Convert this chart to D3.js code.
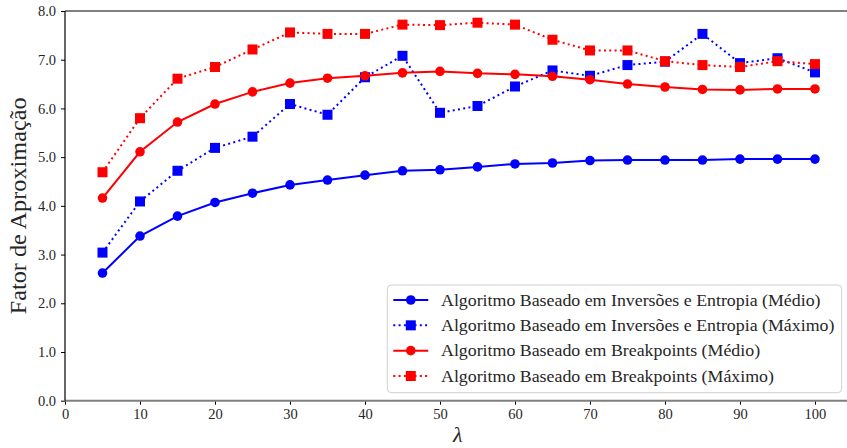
<!DOCTYPE html>
<html>
<head>
<meta charset="utf-8">
<script src="https://cdn.jsdelivr.net/npm/d3@7"></script>
<style>
  html, body { margin: 0; padding: 0; background: #fff; }
  svg { display: block; }
</style>
</head>
<body>
<svg id="chart" width="847" height="448"></svg>
<script>
// λ values on the x axis
const lambdaVals = [5, 10, 15, 20, 25, 30, 35, 40, 45, 50, 55, 60, 65, 70, 75, 80, 85, 90, 95, 100];

// Approximation factor per algorithm
const invMedio  = [2.62, 3.38, 3.79, 4.07, 4.26, 4.43, 4.53, 4.63, 4.72, 4.74, 4.80, 4.86, 4.88, 4.93, 4.94, 4.94, 4.94, 4.96, 4.96, 4.96];
const invMaximo = [3.04, 4.09, 4.72, 5.19, 5.42, 6.09, 5.87, 6.64, 7.08, 5.91, 6.05, 6.45, 6.78, 6.67, 6.89, 6.96, 7.53, 6.93, 7.03, 6.74];
const bpMedio   = [4.16, 5.11, 5.72, 6.09, 6.34, 6.52, 6.62, 6.67, 6.73, 6.76, 6.72, 6.70, 6.66, 6.59, 6.50, 6.44, 6.39, 6.38, 6.40, 6.40];
const bpMaximo  = [4.69, 5.80, 6.61, 6.85, 7.21, 7.56, 7.53, 7.53, 7.72, 7.71, 7.76, 7.72, 7.41, 7.19, 7.19, 6.97, 6.89, 6.85, 6.97, 6.91];

const seriesNames = [
  "Algoritmo Baseado em Inversões e Entropia (Médio)",
  "Algoritmo Baseado em Inversões e Entropia (Máximo)",
  "Algoritmo Baseado em Breakpoints (Médio)",
  "Algoritmo Baseado em Breakpoints (Máximo)"
];

const xTicks = [0, 10, 20, 30, 40, 50, 60, 70, 80, 90, 100];
const yTicks = [0, 1, 2, 3, 4, 5, 6, 7, 8];

const series = [
  { name: seriesNames[0], values: invMedio,  color: "#0000ff", dotted: false, marker: "circle" },
  { name: seriesNames[1], values: invMaximo, color: "#0000ff", dotted: true,  marker: "square" },
  { name: seriesNames[2], values: bpMedio,   color: "#ff0000", dotted: false, marker: "circle" },
  { name: seriesNames[3], values: bpMaximo,  color: "#ff0000", dotted: true,  marker: "square" }
];

const SERIF = "'Liberation Serif', 'DejaVu Serif', serif";
const INK = "#262626";

const svg = d3.select("#chart");
const plotL = 65, plotR = 850.6, plotT = 11, plotB = 400.7;

const x = d3.scaleLinear().domain([0, 104.75]).range([plotL, plotR]);
const y = d3.scaleLinear().domain([0, 8]).range([plotB, plotT]);

const DASH = "2,3.3";
const R = 4.8, SQ = 10;

function drawMarker(g, shape, cx, cy, color) {
  if (shape === "circle") {
    g.append("circle").attr("cx", cx).attr("cy", cy).attr("r", R).attr("fill", color);
  } else {
    g.append("rect").attr("x", cx - SQ / 2).attr("y", cy - SQ / 2)
      .attr("width", SQ).attr("height", SQ).attr("fill", color);
  }
}

// Series lines and markers
const plot = svg.append("g");
const line = d3.line().x(d => x(d[0])).y(d => y(d[1]));
series.forEach(s => {
  const pts = lambdaVals.map((l, i) => [l, s.values[i]]);
  const g = plot.append("g");
  g.append("path").datum(pts).attr("d", line)
    .attr("fill", "none").attr("stroke", s.color).attr("stroke-width", 2)
    .attr("stroke-dasharray", s.dotted ? DASH : null);
  pts.forEach(p => drawMarker(g, s.marker, x(p[0]), y(p[1]), s.color));
});

// Axes
const xAxis = svg.append("g").attr("transform", `translate(0,${plotB})`)
  .call(d3.axisBottom(x).tickValues(xTicks).tickSize(4).tickPadding(4).tickFormat(d3.format("d")));
const yAxis = svg.append("g").attr("transform", `translate(${plotL},0)`)
  .call(d3.axisLeft(y).tickValues(yTicks).tickSize(4).tickPadding(5).tickFormat(d3.format(".1f")));
[xAxis, yAxis].forEach(a => {
  a.attr("font-family", null).attr("font-size", null);
  a.select(".domain").remove();
  a.selectAll(".tick line").attr("stroke", "#000").attr("stroke-width", 1);
  a.selectAll(".tick text")
    .style("font-family", SERIF).style("font-size", "14.5px").style("fill", INK);
});

// Spines
svg.append("line").attr("x1", plotL).attr("x2", 847).attr("y1", plotT).attr("y2", plotT)
  .attr("stroke", "#808080").attr("stroke-width", 2);
svg.append("line").attr("x1", plotL).attr("x2", 847).attr("y1", plotB).attr("y2", plotB)
  .attr("stroke", "#808080").attr("stroke-width", 2);
svg.append("line").attr("x1", plotL).attr("x2", plotL).attr("y1", plotT).attr("y2", plotB)
  .attr("stroke", "#000").attr("stroke-width", 1.2);

// Axis titles
svg.append("text")
  .attr("transform", `translate(26,${(plotT + plotB) / 2}) rotate(-90)`)
  .attr("text-anchor", "middle")
  .style("font-family", SERIF).style("font-size", "24px").style("fill", INK)
  .attr("textLength", 217).attr("lengthAdjust", "spacingAndGlyphs")
  .text("Fator de Aproximação");
svg.append("text")
  .attr("x", (plotL + plotR) / 2).attr("y", 442)
  .attr("text-anchor", "middle")
  .style("font-family", SERIF).style("font-size", "22px").style("font-style", "italic").style("fill", INK)
  .text("λ");

// Legend
const lg = svg.append("g");
lg.append("rect").attr("x", 387.3).attr("y", 285).attr("width", 454.4).attr("height", 107.7)
  .attr("rx", 4).attr("fill", "#fff").attr("fill-opacity", 0.8)
  .attr("stroke", "#d0d0d0").attr("stroke-width", 1);
const rowY = d3.scaleLinear().domain([0, 3]).range([300, 376]);
series.forEach((s, i) => {
  const cy = rowY(i);
  lg.append("line").attr("x1", 393.3).attr("x2", 428.3).attr("y1", cy).attr("y2", cy)
    .attr("stroke", s.color).attr("stroke-width", 2)
    .attr("stroke-dasharray", s.dotted ? DASH : null);
  drawMarker(lg, s.marker, 410.8, cy, s.color);
  const t = lg.append("text").attr("x", 441).attr("y", cy).attr("dy", "0.35em")
    .style("font-family", SERIF).style("font-size", "16px").style("fill", INK)
    .text(s.name);
  const w = t.node().getComputedTextLength();
  t.attr("textLength", w * 1.115).attr("lengthAdjust", "spacingAndGlyphs");
});
</script>
</body>
</html>
